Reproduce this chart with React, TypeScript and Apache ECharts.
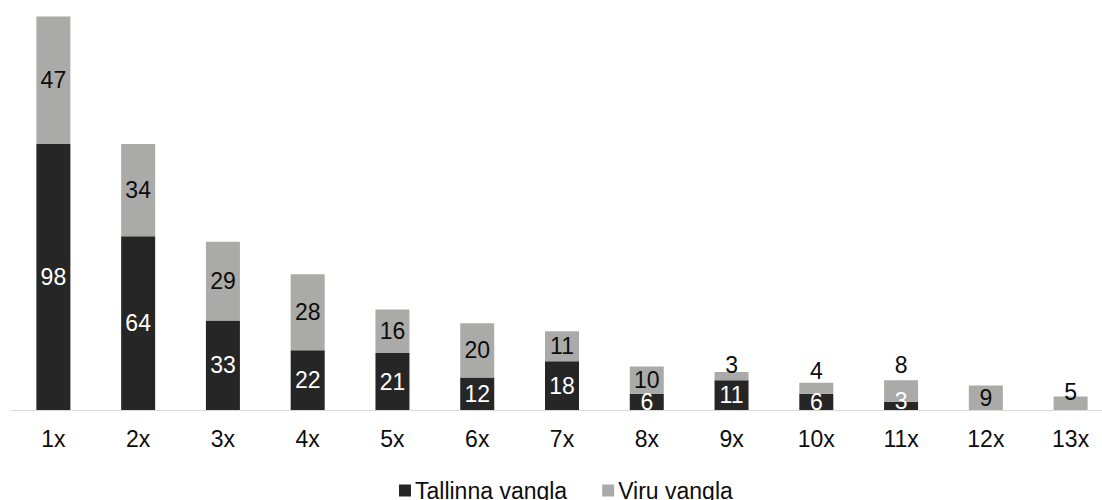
import React, { useEffect, useRef } from "react";
import * as echarts from "echarts";

// Number of times and counts per prison
const categories = ["1x", "2x", "3x", "4x", "5x", "6x", "7x", "8x", "9x", "10x", "11x", "12x", "13x"];
const tallinnValues = [98, 64, 33, 22, 21, 12, 18, 6, 11, 6, 3, 0, 0];
const viruValues = [47, 34, 29, 28, 16, 20, 11, 10, 3, 4, 8, 9, 5];
const seriesNames = ["Tallinna vangla", "Viru vangla"];

const DARK = "#262626";
const GREY = "#aaaba9";
const FONT = "'Liberation Sans', Arial, sans-serif";

// Small segments whose labels sit just above the bar (index -> distance)
const viruLabelAbove: Record<number, number> = { 8: -4.5, 9: 0, 10: 4, 12: -7.5 };
// Small dark segments whose labels are nudged upward (index -> offset)
const tallinnLabelShift: Record<number, number> = { 10: -5 };

export default function App() {
  const ref = useRef<HTMLDivElement>(null);

  useEffect(() => {
    if (!ref.current) return;
    const chart = echarts.init(ref.current, undefined, { renderer: "svg" });

    const hideZero = (p: any) => (p.value ? String(p.value) : "");

    const tallinnData = tallinnValues.map((v, i) =>
      tallinnLabelShift[i] !== undefined
        ? { value: v, label: { offset: [0, tallinnLabelShift[i]] } }
        : v
    );
    const viruData = viruValues.map((v, i) =>
      viruLabelAbove[i] !== undefined
        ? { value: v, label: { position: "top", distance: viruLabelAbove[i] } }
        : v
    );

    chart.setOption({
      animation: false,
      grid: { left: 11, right: 0, top: 3, bottom: 90, containLabel: false },
      legend: {
        left: 394,
        top: 474,
        itemWidth: 12,
        itemHeight: 12,
        itemGap: 35,
        icon: "rect",
        data: seriesNames,
        textStyle: { fontSize: 23, color: "#0d0d0d", fontFamily: FONT, padding: [0, 0, 0, -1] },
      },
      xAxis: {
        type: "category",
        data: categories,
        axisLine: { lineStyle: { color: "#d9d9d9", width: 1 } },
        axisTick: { show: false },
        axisLabel: { fontSize: 23, color: "#0d0d0d", fontFamily: FONT, margin: 17 },
      },
      yAxis: {
        type: "value",
        min: 0,
        max: 150,
        show: false,
        splitLine: { show: false },
      },
      series: [
        {
          name: seriesNames[0],
          type: "bar",
          stack: "total",
          barWidth: 34,
          data: tallinnData,
          itemStyle: { color: DARK },
          label: {
            show: true,
            position: "inside",
            formatter: hideZero,
            fontSize: 23,
            color: "#ffffff",
            fontFamily: FONT,
          },
        },
        {
          name: seriesNames[1],
          type: "bar",
          stack: "total",
          barWidth: 34,
          data: viruData,
          itemStyle: { color: GREY },
          label: {
            show: true,
            position: "inside",
            formatter: hideZero,
            fontSize: 23,
            color: "#0d0d0d",
            fontFamily: FONT,
          },
        },
      ],
    });

    return () => chart.dispose();
  }, []);

  return (
    <div
      style={{
        position: "fixed",
        left: 0,
        top: 0,
        width: 1102,
        height: 500,
        overflow: "hidden",
        background: "#fff",
      }}
    >
      <div ref={ref} style={{ width: 1113, height: 500 }} />
    </div>
  );
}
